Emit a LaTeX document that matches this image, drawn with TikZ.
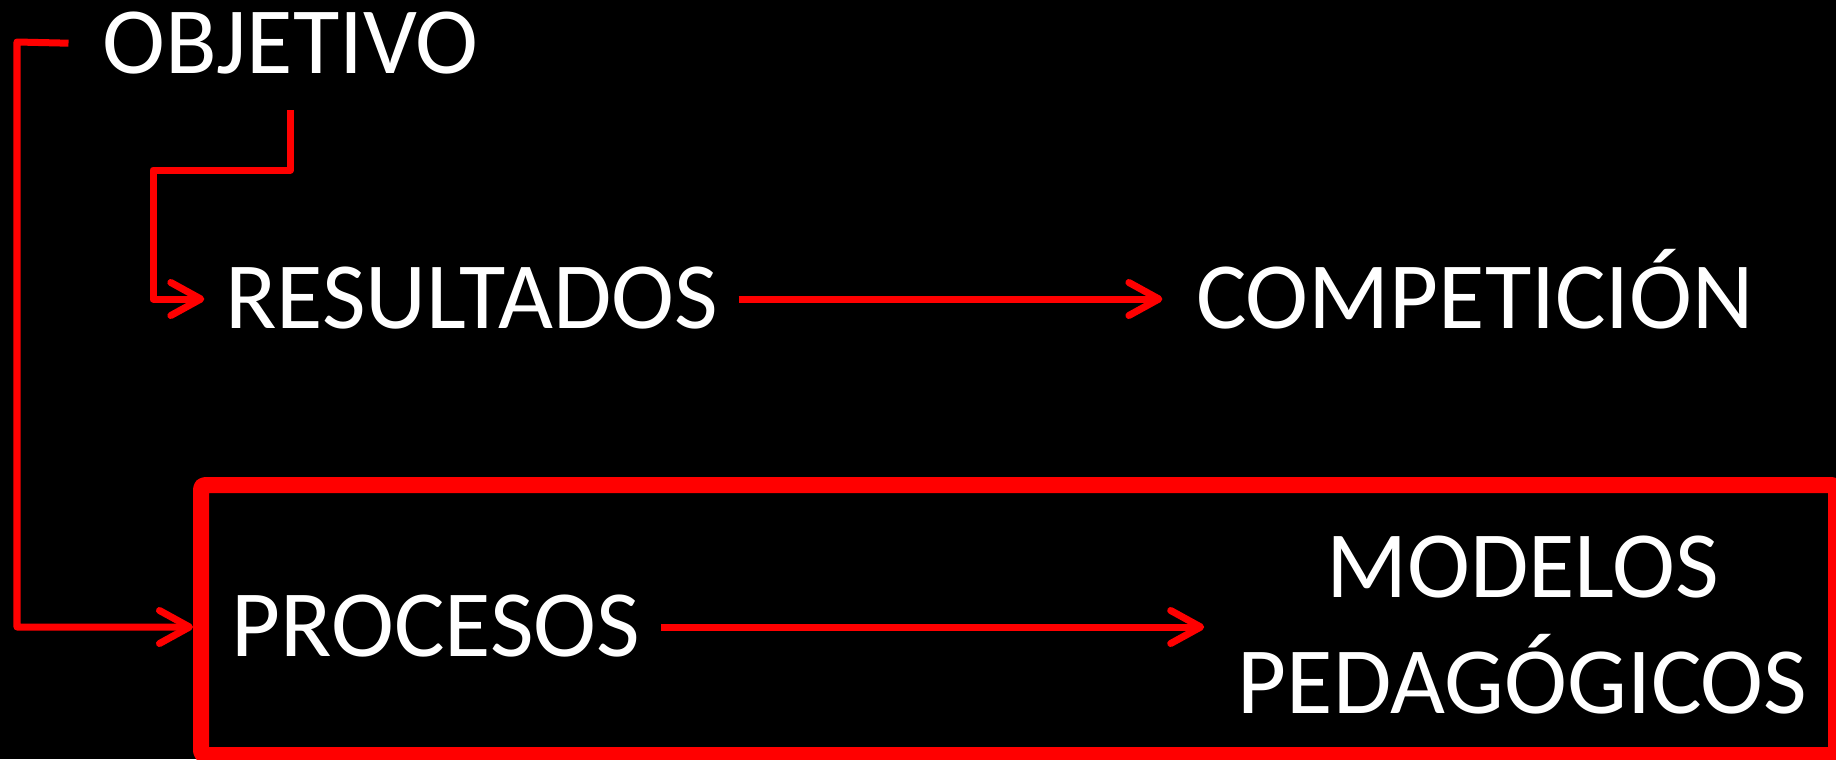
\documentclass[tikz,border=0pt]{standalone}
\usepackage{fontspec}
\setmainfont{Carlito}
\usetikzlibrary{arrows.meta,calc,positioning}

\begin{document}
\begin{tikzpicture}[line join=round]
	\tikzstyle{etiqueta} = [text=white,font=\fontsize{27}{33}\selectfont,inner xsep=0.2cm,inner ysep=0.1cm,text height=17pt,text depth=0pt]
	\tikzstyle{etiqueta2} = [text=white,font=\fontsize{27}{33}\selectfont,inner xsep=0.2cm,inner ysep=0.1cm,align=center]
	\tikzstyle{flecha} = [draw=red,line width=0.07cm,-{Straight Barb[length=0.3cm,width=0.33cm,round]}]
	\tikzstyle{marco} = [draw=red,line width=0.16cm,rounded corners=0.04cm,minimum width=16.35cm,minimum height=2.70cm]
	% Fondo
	\fill[black] (0,0) rectangle (18.36,-7.59);
	\useasboundingbox (0,0) rectangle (18.36,-7.59);
	% Marco
	\node[marco] (marco) at (10.185,-6.20) {};
	% Textos
	\node[etiqueta] (objetivo) at (2.905,-0.435) {OBJETIVO};
	\node[etiqueta] (resultados) at (4.715,-2.99) {RESULTADOS};
	\node[etiqueta] (competicion) at (14.75,-2.99) {COMPETICIÓN};
	\node[etiqueta] (procesos) at (4.36,-6.27) {PROCESOS};
	\node[etiqueta2] (modelos) at (15.225,-6.25) {MODELOS\\PEDAGÓGICOS};
	% Codos
	\coordinate (codo1) at (0.17,-0.42);
	\coordinate (codo2) at (1.53,-1.70);
	% Conectores
	\draw[flecha,shorten <=0.13cm] (objetivo.west) -- (codo1) |- (procesos.west -| marco.west);
	\draw[flecha,shorten <=0.26cm] (objetivo.south) |- (codo2) |- (resultados.west);
	\draw[flecha,shorten >=0.13cm] (resultados.east) -- (competicion.west);
	\draw[flecha,shorten >=0.13cm] (procesos.east) -- (modelos.west |- procesos.east);
\end{tikzpicture}
\end{document}
